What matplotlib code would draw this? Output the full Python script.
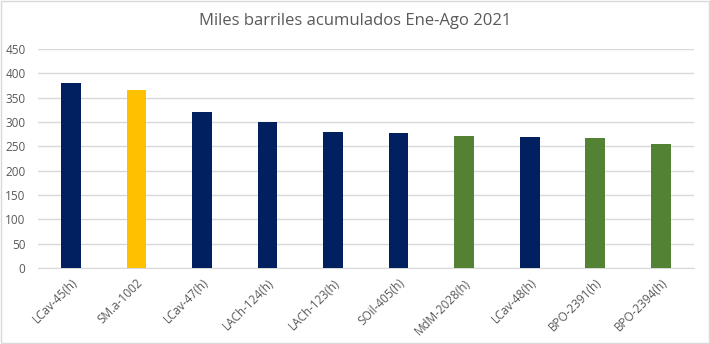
import matplotlib.pyplot as plt
from matplotlib.patches import Rectangle

plt.rcParams['font.family'] = ['Open Sans', 'DejaVu Sans']

# Pozos y producción acumulada (miles de barriles)
pozos = ["LCav-45(h)", "SM.a-1002", "LCav-47(h)", "LACh-124(h)", "LACh-123(h)",
         "SOil-405(h)", "MdM-2028(h)", "LCav-48(h)", "BPO-2391(h)", "BPO-2394(h)"]
acumulado = [380, 366, 320, 300, 279, 277, 271, 269, 267, 255]
grupo = ["a", "b", "a", "a", "a", "a", "c", "a", "c", "c"]

colores = {"a": "#002060", "b": "#FFC000", "c": "#548235"}
grid_color = "#D9D9D9"
text_color = "#595959"

fig = plt.figure(figsize=(7.10, 3.44), dpi=100)
ax = fig.add_axes([0.0535, 0.221, 0.9235, 0.637])

x = range(len(pozos))
ax.bar(x, acumulado, width=0.3, color=[colores[g] for g in grupo], zorder=3)

ax.set_ylim(0, 450)
ax.set_yticks(range(0, 451, 50))
ax.set_xlim(-0.5, len(pozos) - 0.5)
ax.yaxis.grid(True, color=grid_color, linewidth=1, zorder=0)
ax.set_axisbelow(True)

for s in ["top", "right", "left"]:
    ax.spines[s].set_visible(False)
ax.spines["bottom"].set_color(grid_color)
ax.tick_params(axis="both", length=0, colors=text_color, labelsize=8.5)
ax.tick_params(axis="y", pad=9)

ax.set_xticks(list(x))
ax.set_xticklabels(pozos, rotation=45, ha="right", rotation_mode="anchor")
ax.tick_params(axis="x", pad=6)

fig.text(0.5, 0.94, "Miles barriles acumulados Ene-Ago 2021", ha="center", va="center",
         fontsize=12, color=text_color)

# borde del gráfico
fig.patches.append(Rectangle((0.001, 0.002), 0.997, 0.995, transform=fig.transFigure,
                             fill=False, edgecolor="#D9D9D9", linewidth=1))

fig.savefig("out.png", dpi=100)
